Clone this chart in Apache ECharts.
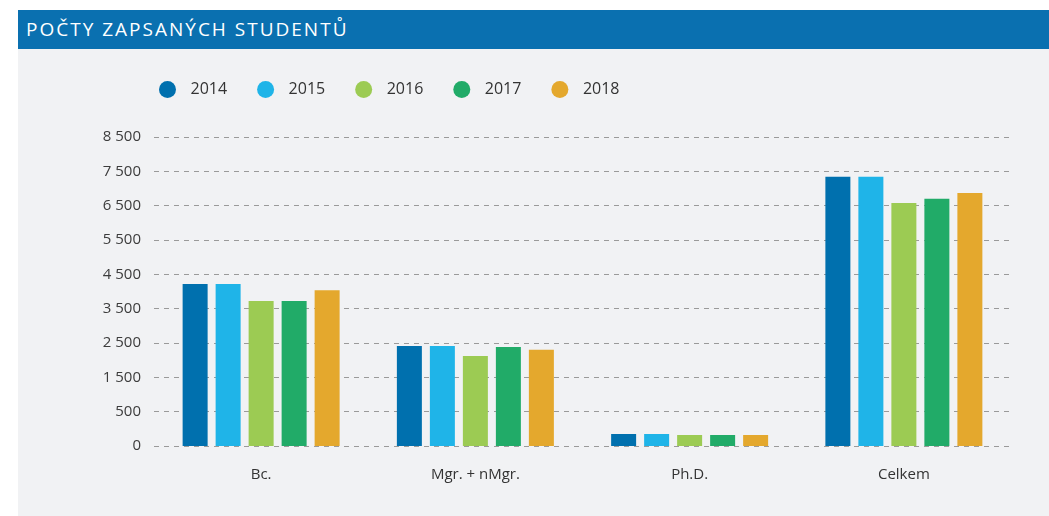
<!DOCTYPE html>
<html>
<head>
<meta charset="utf-8">
<script src="https://cdn.jsdelivr.net/npm/echarts@6/dist/echarts.min.js"></script>
<style>
  html, body { margin: 0; padding: 0; background: #fff; }
  #panel { position: absolute; left: 18px; top: 49px; width: 1031px; height: 467px; background: #f1f2f4; }
  #head {
    position: absolute; left: 18px; top: 10px; width: 1031px; height: 39px;
    background: #0a70b0; color: #fff;
    font-family: "Open Sans", sans-serif; font-size: 19px; letter-spacing: 2px;
    line-height: 39px; box-sizing: border-box; padding-left: 8px;
  }
  #main { position: absolute; left: 0; top: 0; width: 1049px; height: 516px; }
</style>
</head>
<body>
<div id="panel"></div>
<div id="head">POČTY ZAPSANÝCH STUDENTŮ</div>
<div id="main"></div>
<script>
  var categories = ['Bc.', 'Mgr. + nMgr.', 'Ph.D.', 'Celkem'];
  var years = ['2014', '2015', '2016', '2017', '2018'];
  var colors = ['#0070ae', '#1fb4e8', '#9ccb53', '#21ab68', '#e4a82d'];
  // tick labels as printed on the original chart (one per gridline)
  var yLabels = ['0', '500', '1 500', '2 500', '3 500', '4 500', '5 500', '6 500', '7 500', '8 500'];

  var v2014 = [4720, 2910, 350, 7840];
  var v2015 = [4720, 2910, 350, 7840];
  var v2016 = [4220, 2620, 320, 7080];
  var v2017 = [4220, 2880, 320, 7200];
  var v2018 = [4540, 2800, 320, 7370];
  var values = [v2014, v2015, v2016, v2017, v2018];

  var series = []
  for (var i = 0; i < years.length; i++) {
    series.push({
      name: years[i],
      type: 'bar',
      data: values[i],
      barWidth: 25,
      barGap: '32%',
      itemStyle: { color: colors[i] }
    })
  }

  var chart = echarts.init(document.getElementById('main'))
  var option = {
    backgroundColor: 'transparent',
    textStyle: { fontFamily: 'Open Sans' },
    legend: {
      data: years,
      left: 154,
      top: 76,
      icon: 'circle',
      itemWidth: 36,
      itemHeight: 17,
      itemGap: 30,
      textStyle: { color: '#333', fontSize: 16 }
    },
    grid: { left: 154, right: 38, top: 137, bottom: 70 },
    xAxis: {
      type: 'category',
      data: categories,
      axisLine: { show: false },
      axisTick: { show: false },
      axisLabel: { color: '#333', fontSize: 15, margin: 21 }
    },
    yAxis: {
      type: 'value',
      min: 0,
      max: 9000,
      interval: 1000,
      axisLine: { show: false },
      axisTick: { show: false },
      axisLabel: {
        color: '#3c3c3c', fontSize: 15, margin: 13,
        formatter: function (v) { return yLabels[Math.round(v / 1000)] }
      },
      splitLine: {
        lineStyle: { color: '#9a9a9a', type: [5, 5], width: 1 }
      }
    },
    series: series
  };
  chart.setOption(option)
</script>
</body>
</html>
